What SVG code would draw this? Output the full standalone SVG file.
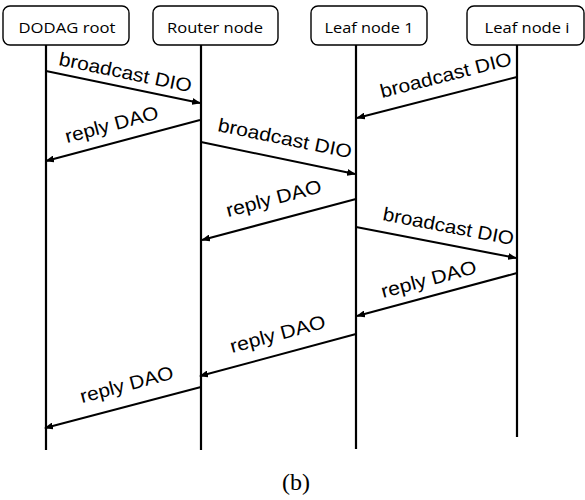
<svg xmlns="http://www.w3.org/2000/svg" width="585" height="500" viewBox="0 0 585 500">
<style>
.box{fill:#fff;stroke:#000;stroke-width:1.4}
.nt{font-family:"Open Sans","Liberation Sans",sans-serif;font-size:15px;fill:#000;text-anchor:middle}
.life{stroke:#000;stroke-width:2.2;fill:none}
.msg{stroke:#000;stroke-width:2;fill:none;marker-end:url(#ah)}
.lb{font-family:"Liberation Sans",Arial,sans-serif;font-size:19px;fill:#000}
.cap{font-family:"Liberation Serif","Times New Roman",serif;font-size:24px;fill:#000;text-anchor:middle}
</style>
<defs>
<marker id="ah" markerWidth="9" markerHeight="7" refX="8" refY="3.5" orient="auto" markerUnits="userSpaceOnUse">
<path d="M0,0 L9,3.5 L0,7 Z" fill="#000"/>
</marker>
</defs>
<rect width="585" height="500" fill="#fff"/>
<g id="node-dodag">
<rect class="box" x="3" y="6" width="126" height="39" rx="7"/>
<text class="nt" x="67" y="33" textLength="97" lengthAdjust="spacingAndGlyphs">DODAG root</text>
<line class="life" x1="46" y1="45" x2="46" y2="450"/>
</g>
<g id="node-router">
<rect class="box" x="153" y="6" width="125" height="39" rx="7"/>
<text class="nt" x="215" y="33" textLength="96" lengthAdjust="spacingAndGlyphs">Router node</text>
<line class="life" x1="201" y1="45" x2="201" y2="450"/>
</g>
<g id="node-leaf1">
<rect class="box" x="311" y="6" width="116" height="39" rx="7"/>
<text class="nt" x="369" y="33" textLength="89" lengthAdjust="spacingAndGlyphs">Leaf node 1</text>
<line class="life" x1="356" y1="45" x2="356" y2="449"/>
</g>
<g id="node-leafi">
<rect class="box" x="467" y="6" width="117" height="39" rx="7"/>
<text class="nt" x="527" y="33" textLength="85" lengthAdjust="spacingAndGlyphs">Leaf node i</text>
<line class="life" x1="517" y1="45" x2="517" y2="437"/>
</g>
<g id="connectors">
<line class="msg" x1="46" y1="71" x2="200" y2="103"/>
<line class="msg" x1="200" y1="120" x2="46" y2="161"/>
<line class="msg" x1="201" y1="142" x2="355" y2="174"/>
<line class="msg" x1="517" y1="77" x2="357" y2="118"/>
<line class="msg" x1="356" y1="199" x2="202" y2="240"/>
<line class="msg" x1="356" y1="227" x2="516" y2="258"/>
<line class="msg" x1="517" y1="273" x2="357" y2="316"/>
<line class="msg" x1="356" y1="334" x2="200" y2="376"/>
<line class="msg" x1="201" y1="387" x2="45" y2="428"/>
</g>
<g id="labels">
<text class="lb" transform="translate(58,65) rotate(11.7)" textLength="135" lengthAdjust="spacingAndGlyphs">broadcast DIO</text>
<text class="lb" transform="translate(67,143) rotate(-14.9)" textLength="96" lengthAdjust="spacingAndGlyphs">reply DAO</text>
<text class="lb" transform="translate(217,131) rotate(11.6)" textLength="136" lengthAdjust="spacingAndGlyphs">broadcast DIO</text>
<text class="lb" transform="translate(382,98) rotate(-14.3)" textLength="135" lengthAdjust="spacingAndGlyphs">broadcast DIO</text>
<text class="lb" transform="translate(228,217) rotate(-14.7)" textLength="98" lengthAdjust="spacingAndGlyphs">reply DAO</text>
<text class="lb" transform="translate(382,220) rotate(10.9)" textLength="133" lengthAdjust="spacingAndGlyphs">broadcast DIO</text>
<text class="lb" transform="translate(383,298) rotate(-14.9)" textLength="98" lengthAdjust="spacingAndGlyphs">reply DAO</text>
<text class="lb" transform="translate(232,353) rotate(-15.1)" textLength="98" lengthAdjust="spacingAndGlyphs">reply DAO</text>
<text class="lb" transform="translate(82,403) rotate(-14.9)" textLength="96" lengthAdjust="spacingAndGlyphs">reply DAO</text>
</g>
<text class="cap" x="296" y="490">(b)</text>
</svg>
